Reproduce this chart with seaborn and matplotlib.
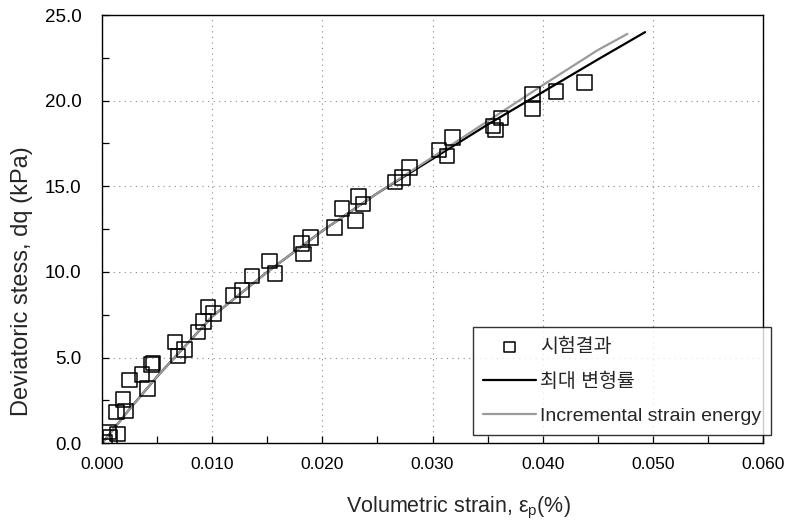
# Deviatoric stress vs volumetric strain: test data and two model curves
import matplotlib
matplotlib.use("Agg")
import matplotlib.pyplot as plt
from matplotlib.ticker import MultipleLocator, FormatStrFormatter
import numpy as np
import pandas as pd
import seaborn as sns

# Test results (open squares)
test_strain = [0.0002, 0.0006, 0.0007, 0.0014, 0.0013, 0.0021, 0.0019, 0.0025,
               0.0036, 0.0045, 0.0046, 0.0041, 0.0066, 0.0069, 0.0075, 0.0087,
               0.0092, 0.0096, 0.0101, 0.0119, 0.0127, 0.0136, 0.0152, 0.0157,
               0.0181, 0.0183, 0.0189, 0.0211, 0.0218, 0.0230, 0.0233, 0.0237,
               0.0266, 0.0273, 0.0279, 0.0306, 0.0313, 0.0318, 0.0355, 0.0357,
               0.0362, 0.0391, 0.0391, 0.0412, 0.0438]
test_stress = [0.08, 0.66, 0.37, 0.53, 1.83, 1.89, 2.55, 3.68,
               4.01, 4.61, 4.68, 3.19, 5.92, 5.08, 5.47, 6.50,
               7.09, 7.96, 7.57, 8.64, 8.94, 9.75, 10.65, 9.91,
               11.66, 11.04, 12.01, 12.58, 13.71, 12.99, 14.39, 13.96,
               15.26, 15.52, 16.10, 17.11, 16.78, 17.86, 18.52, 18.28,
               19.00, 20.37, 19.55, 20.52, 21.05]

# Maximum strain rate model (black line)
max_strain = [0.0, 0.0025, 0.005, 0.010, 0.015, 0.020, 0.025, 0.030,
              0.035, 0.040, 0.045, 0.0493]
max_stress = [0.0, 2.0, 3.9, 7.4, 10.0, 12.4, 14.6, 16.6,
              18.6, 20.5, 22.4, 24.0]

# Incremental strain energy model (grey line)
inc_strain = [0.0, 0.0025, 0.005, 0.010, 0.015, 0.020, 0.025, 0.030,
              0.035, 0.040, 0.045, 0.0477]
inc_stress = [0.0, 2.0, 3.9, 7.4, 10.0, 12.4, 14.6, 16.7,
              18.8, 20.9, 22.95, 23.9]

sns.set_style("white")
plt.rcParams["font.family"] = ["Liberation Sans", "Noto Sans CJK KR", "DejaVu Sans"]
plt.rcParams["mathtext.fontset"] = "custom"
plt.rcParams["mathtext.rm"] = "Liberation Sans"

fig = plt.figure(figsize=(7.98, 5.27), dpi=100)
ax = fig.add_axes([0.128, 0.159, 0.828, 0.8125])

sns.lineplot(x=max_strain, y=max_stress, ax=ax, color="black", linewidth=1.6,
             sort=False, estimator=None, label="최대 변형률")
sns.lineplot(x=inc_strain, y=inc_stress, ax=ax, color="#9a9a9a", linewidth=1.6,
             sort=False, estimator=None, label="Incremental strain energy")
sns.scatterplot(x=test_strain, y=test_stress, ax=ax, marker="s", s=110,
                facecolor="none", edgecolor="black", linewidth=1.1,
                label="시험결과", zorder=3)

ax.set_xlim(0, 0.060)
ax.set_ylim(0, 25)
ax.xaxis.set_major_locator(MultipleLocator(0.01))
ax.xaxis.set_minor_locator(MultipleLocator(0.005))
ax.yaxis.set_major_locator(MultipleLocator(5))
ax.yaxis.set_minor_locator(MultipleLocator(2.5))
ax.xaxis.set_major_formatter(FormatStrFormatter("%.3f"))
ax.yaxis.set_major_formatter(FormatStrFormatter("%.1f"))
ax.tick_params(which="both", direction="in", length=5, width=0.9,
               colors="black", bottom=True, left=True)
ax.tick_params(axis="x", labelsize=12.5, pad=10)
ax.tick_params(axis="y", labelsize=13.5, pad=15)

for side in ["left", "bottom", "right", "top"]:
    ax.spines[side].set_visible(True)
    ax.spines[side].set_color("black")
    ax.spines[side].set_linewidth(1.0)

ax.grid(True, which="major", color="#888888", linestyle=(0, (1, 4)), linewidth=0.8)

ax.set_xlabel("Volumetric strain, ε$_{\\rm p}$(%)", fontsize=15.5)
ax.set_ylabel("Deviatoric stess, dq (kPa)", fontsize=17)
ax.xaxis.set_label_coords(0.539, -0.12)
ax.yaxis.set_label_coords(-0.104, 0.378)

handles, labels = ax.get_legend_handles_labels()
order = [labels.index("시험결과"), labels.index("최대 변형률"),
         labels.index("Incremental strain energy")]
leg = ax.legend([handles[i] for i in order], [labels[i] for i in order],
                loc="lower right", bbox_to_anchor=(1.013, 0.018), fontsize=14,
                frameon=True, fancybox=False, edgecolor="black",
                handlelength=2.7, handletextpad=0.2, borderpad=0.55,
                labelspacing=0.85, borderaxespad=0.0, markerscale=0.7)
leg.get_frame().set_linewidth(1.0)

fig.savefig("out.png", dpi=100)
